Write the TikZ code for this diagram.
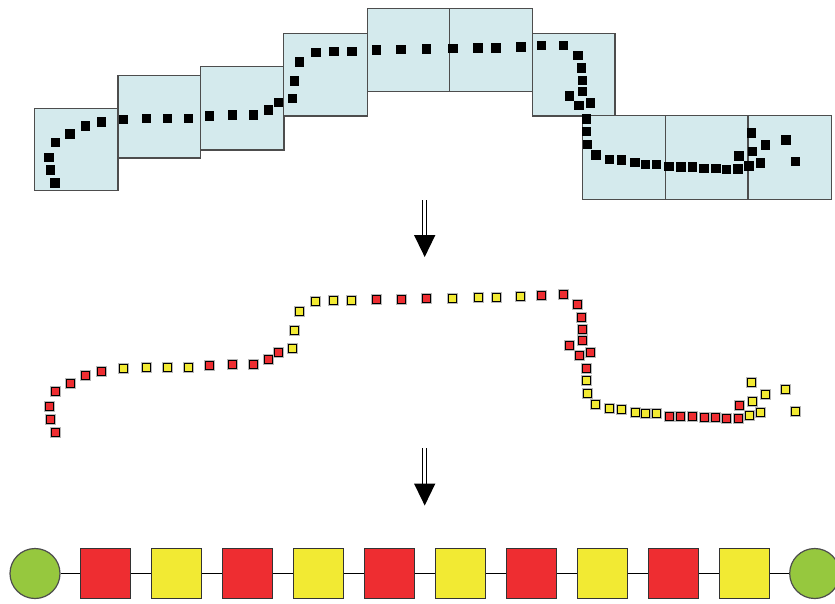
\documentclass[tikz,border=0pt]{standalone}
\usetikzlibrary{calc}
\definecolor{boxfill}{HTML}{D4EAED}
\definecolor{boxline}{HTML}{4D4D4D}
\definecolor{sred}{HTML}{EE2D31}
\definecolor{syel}{HTML}{F2EA33}
\definecolor{sgreen}{HTML}{96C83E}
\definecolor{halo}{HTML}{9A9A9A}
\tikzset{
  win/.style={draw=boxline, fill=boxfill, line width=1.3pt, anchor=north west, inner sep=0pt, outer sep=0pt},
  bdot/.style={fill=black, minimum size=9.5pt, inner sep=0pt, outer sep=0pt},
  cdot/.style={draw=black, line width=1pt, minimum size=8pt, inner sep=0pt, outer sep=0pt,
               preaction={draw=halo!70, line width=3pt}},
  rdot/.style={cdot, fill=sred},
  ydot/.style={cdot, fill=syel},
  unit/.style={draw=black!80, line width=1.2pt, minimum size=49.5pt, inner sep=0pt},
  runit/.style={unit, fill=sred},
  yunit/.style={unit, fill=syel},
  endc/.style={circle, draw=boxline, line width=1.2pt, fill=sgreen, minimum size=50pt, inner sep=0pt},
  chain/.style={draw=black, line width=1.8pt},
  shaft/.style={draw=black, line width=1pt, double=white, double distance=3pt},
  head/.style={fill=black}
}
\begin{document}
\begin{tikzpicture}[x=1pt,y=-1pt]
\useasboundingbox (0,0) rectangle (835,603);
% windows
\node[win, minimum width=83.3pt, minimum height=82.4pt] (w1) at (34.7,108.3) {};
\node[win, minimum width=82.7pt, minimum height=82.7pt] (w2) at (118,75.3) {};
\node[win, minimum width=83.3pt, minimum height=83.3pt] (w3) at (200.7,66.7) {};
\node[win, minimum width=83.6pt, minimum height=82.5pt] (w4) at (283.7,33.5) {};
\node[win, minimum width=82pt, minimum height=83.2pt] (w5) at (367.3,8.5) {};
\node[win, minimum width=83.4pt, minimum height=83.2pt] (w6) at (449.3,8.5) {};
\node[win, minimum width=82.3pt, minimum height=82.5pt] (w7) at (532.7,33.5) {};
\node[win, minimum width=83.4pt, minimum height=83.6pt] (w8) at (582.3,115.7) {};
\node[win, minimum width=82.3pt, minimum height=83.6pt] (w9) at (665.7,115.7) {};
\node[win, minimum width=83.7pt, minimum height=83.6pt] (w10) at (748,115.7) {};
% dots: top black, middle coloured (shifted down)
\foreach \px/\py/\c [count=\i] in {
 55/183/r, 50.7/170/r, 49/157.3/r, 55.5/142.3/r, 70/134/r, 85.3/126/r, 101.3/122/r,
 123.7/119.5/y, 146.3/118.5/y, 167.3/118.5/y, 188.3/118.5/y,
 209.7/116/r, 232.7/115/r, 253.7/115/r, 268.3/110/r, 278.7/102.7/r,
 292.3/98.7/y, 294.3/81/y, 299.5/62/y, 315.8/52.5/y, 333.8/51.5/y, 351.8/51.5/y,
 376.7/50/r, 401/49.7/r, 426.3/49/r,
 452.8/48.7/y, 478.2/48/y, 496/48/y, 520.8/47/y,
 541.5/45.7/r, 563.7/45.5/r, 577.8/55.5/r, 581.3/67.8/r, 582.3/80.3/r, 582.3/91.3/r,
 569.7/95.8/r, 579.2/105.7/r, 590.7/102.8/r, 586.7/118.8/r,
 586.7/131.5/y, 587.5/144.5/y, 595.8/155/y, 609.5/159.5/y, 621.7/160/y, 635/162.7/y,
 645.5/164.3/y, 656.7/164.3/y,
 669/166.7/r, 680.8/167/r, 692.7/167/r, 704.2/168.3/r, 715.8/168.3/r, 726.7/169.3/r,
 738.2/169/r, 739.2/156.2/r,
 749.2/166/y, 752.3/151.7/y, 751.7/133/y, 760.7/163/y, 765.5/144.8/y, 785.8/140/y, 795.7/161.7/y}
{
  \node[bdot] (b\i) at (\px,\py) {};
  \node[\c dot] (m\i) at (\px,\py+249.3) {};
}
% arrows
\coordinate (a1s) at (424.7,200);
\coordinate (a1e) at (424.7,235);
\coordinate (a1t) at (424.7,257);
\draw[shaft] (a1s) -- (a1e);
\fill[head] ($(a1e)+(-10.7,0)$) -- ($(a1e)+(10.7,0)$) -- (a1t) -- cycle;
\coordinate (a2s) at (424.7,448);
\coordinate (a2e) at (424.7,483.5);
\coordinate (a2t) at (424.7,505.5);
\draw[shaft] (a2s) -- (a2e);
\fill[head] ($(a2e)+(-10.7,0)$) -- ($(a2e)+(10.7,0)$) -- (a2t) -- cycle;
% bottom chain
\node[endc] (c0) at (35,573.5) {};
\node[endc] (c11) at (814.7,573.5) {};
\foreach \k/\s in {1/r,2/y,3/r,4/y,5/r,6/y,7/r,8/y,9/r,10/y} {
  \node[\s unit] (s\k) at (105.5+71*\k-71,573.5) {};
}
\draw[chain] (c0) -- (s1);
\foreach \k [evaluate=\k as \n using int(\k+1)] in {1,...,9} {
  \draw[chain] (s\k) -- (s\n);
}
\draw[chain] (s10) -- (c11);
\end{tikzpicture}
\end{document}
